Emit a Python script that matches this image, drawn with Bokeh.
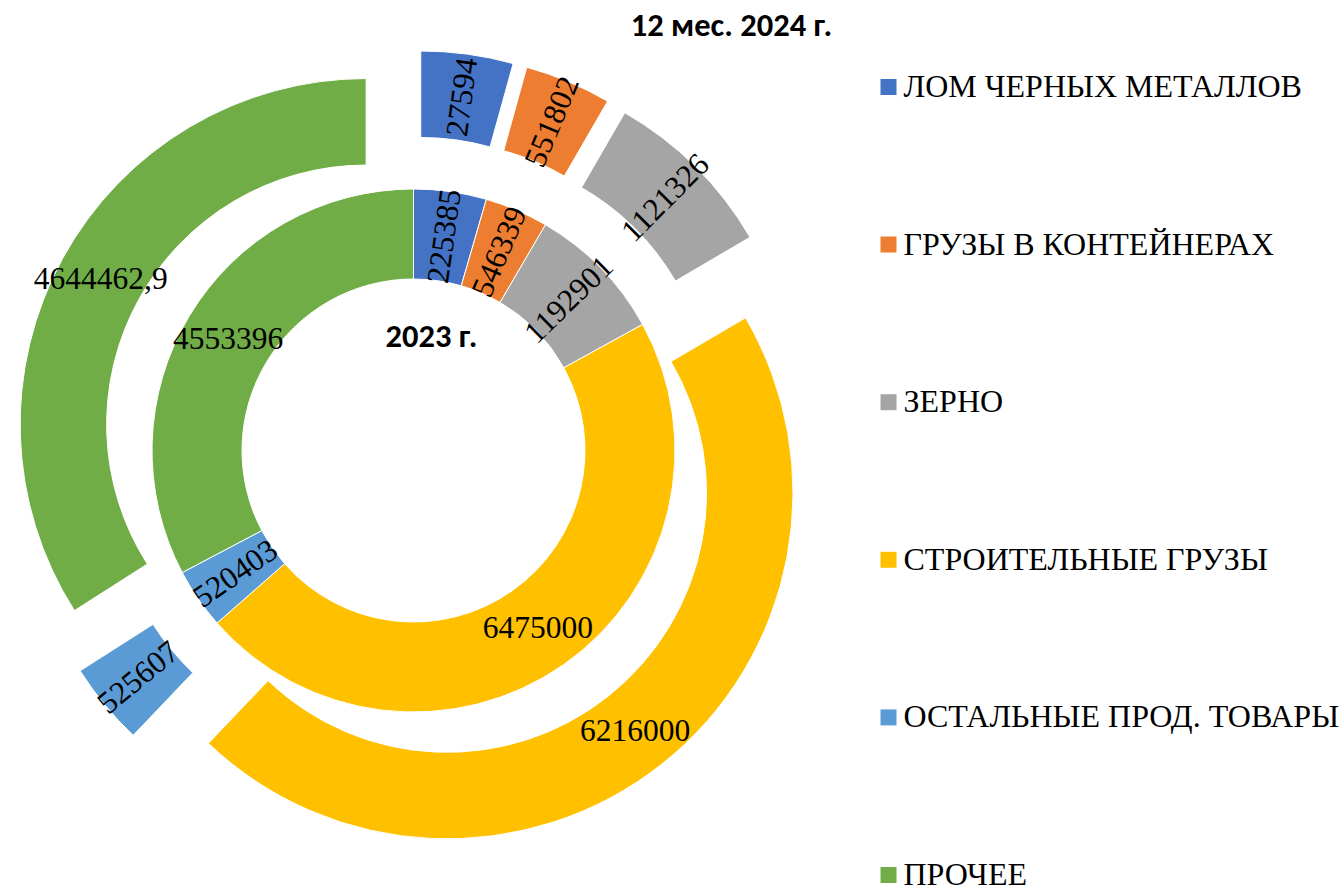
import numpy as np
from bokeh.plotting import figure
from bokeh.models import Range1d
from bokeh.embed import file_html
from bokeh.resources import INLINE
from bokeh.core.properties import value

# ---------------- data ----------------
categories = ["ЛОМ ЧЕРНЫХ МЕТАЛЛОВ", "ГРУЗЫ В КОНТЕЙНЕРАХ", "ЗЕРНО",
              "СТРОИТЕЛЬНЫЕ ГРУЗЫ", "ОСТАЛЬНЫЕ ПРОД. ТОВАРЫ", "ПРОЧЕЕ"]
colors = ["#4472C4", "#ED7D31", "#A5A5A5", "#FFC000", "#5B9BD5", "#70AD47"]
# slice sizes as drawn in the picture (the first slice of each ring is drawn
# larger than its printed label suggests; its size is estimated from the picture)
values_2023 = [625000, 546339, 1192901, 6475000, 520403, 4553396]
values_2024 = [587000, 551802, 1121326, 6216000, 525607, 4644462.9]
# printed data labels
labels_2023 = ["225385", "546339", "1192901", "6475000", "520403", "4553396"]
labels_2024 = ["27594", "551802", "1121326", "6216000", "525607", "4644462,9"]
title_inner = "2023 г."
title_outer = "12 мес. 2024 г."

# ---------------- layout ----------------
W, H = 1344, 895
CX, CY = 413, H - 450

p = figure(width=W, height=H, x_range=Range1d(0, W), y_range=Range1d(0, H),
           output_backend="svg", toolbar_location=None,
           x_axis_type=None, y_axis_type=None, min_border=0)
p.grid.visible = False
p.outline_line_color = None
p.background_fill_color = "white"
p.border_fill_color = "white"

LABEL_FONT = value("Times New Roman")
TITLE_FONT = value("Carlito")


def ring(values, labels, r_in, r_out, explode):
    v = np.asarray(values, dtype=float)
    cum = np.concatenate([[0.0], np.cumsum(v / v.sum())]) * 360.0
    starts, ends = cum[:-1], cum[1:]
    mids = (starts + ends) / 2
    m = np.radians(mids)
    xs = CX + explode * np.sin(m)
    ys = CY + explode * np.cos(m)
    p.annular_wedge(x=xs, y=ys, inner_radius=r_in, outer_radius=r_out,
                    start_angle=np.radians(90 - starts),
                    end_angle=np.radians(90 - ends), direction="clock",
                    fill_color=colors, line_color="white", line_width=1)
    lr = (r_in + r_out) / 2
    lx = xs + lr * np.sin(m)
    ly = ys + lr * np.cos(m)
    angs = []
    for s, e, md in zip(starts, ends, mids):
        if e - s < 40:
            a = 90 - md
            while a <= -90:
                a += 180
            while a > 90:
                a -= 180
        else:
            a = 0
        angs.append(float(np.radians(a)))
    p.text(x=lx, y=ly, text=labels, angle=angs, text_align="center",
           text_baseline="middle", text_font=LABEL_FONT,
           text_font_size="31.5px", text_color="black")


ring(values_2023, labels_2023, 171.5, 261.5, 0)
ring(values_2024, labels_2024, 259.5, 346, 54)

# titles
p.text(x=[731], y=[H - 24], text=[title_outer], text_align="center",
       text_baseline="middle", text_font=TITLE_FONT, text_font_style="bold",
       text_font_size="32.5px", text_color="black")
p.text(x=[431], y=[H - 335], text=[title_inner], text_align="center",
       text_baseline="middle", text_font=TITLE_FONT, text_font_style="bold",
       text_font_size="32.5px", text_color="black")

# legend
idx = np.arange(len(categories))
leg_y = H - (86.5 + idx * 157.6)
p.rect(x=[888] * len(categories), y=leg_y, width=16, height=16,
       fill_color=colors, line_color=None)
p.text(x=[903] * len(categories), y=leg_y + 1, text=categories, text_align="left",
       text_baseline="middle", text_font=LABEL_FONT, text_font_size="32px",
       text_color="black")

open("out.html", "w").write(file_html(p, INLINE))
